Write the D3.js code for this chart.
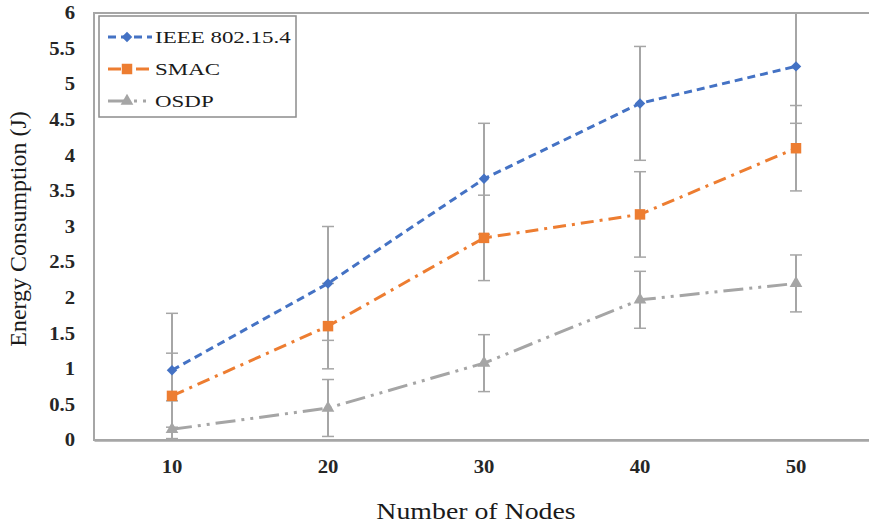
<!doctype html>
<html lang="en">
<head>
  <meta charset="utf-8">
  <title>Energy Consumption</title>
  <script src="https://cdn.jsdelivr.net/npm/d3@7"></script>
  <style>
    body { margin: 0; background: #fff; }
    svg { display: block; font-family: "Liberation Serif", "Times New Roman", serif; }
  </style>
</head>
<body>
<svg id="chart" width="869" height="526"></svg>

<script>
// data
var nodes = ["10", "20", "30", "40", "50"];
var yTicks = [0, 0.5, 1, 1.5, 2, 2.5, 3, 3.5, 4, 4.5, 5, 5.5, 6];

var ieee = [0.98, 2.2, 3.67, 4.73, 5.25];
var ieeeErr = [0.8, 0.8, 0.78, 0.8, 0.8];
var smac = [0.62, 1.6, 2.84, 3.17, 4.1];
var smacErr = [0.6, 0.6, 0.6, 0.6, 0.6];
var osdp = [0.15, 0.45, 1.08, 1.97, 2.2];
var osdpErr = [0.4, 0.4, 0.4, 0.4, 0.4];

var seriesNames = ["IEEE 802.15.4", "SMAC", "OSDP"];

var series = [
  { name: seriesNames[0], values: ieee, err: ieeeErr, color: "#4472c4", dash: "8,5", width: 3, marker: d3.symbolSquare, size: 55, rot: 45 },
  { name: seriesNames[1], values: smac, err: smacErr, color: "#ed7d31", dash: "13,6,3,6", width: 3, marker: d3.symbolSquare, size: 110, rot: 0 },
  { name: seriesNames[2], values: osdp, err: osdpErr, color: "#a5a5a5", dash: "20,6,3,6,3,6", width: 3, marker: d3.symbolTriangle, size: 70, rot: 0 }
];

var svg = d3.select("#chart");
var plotLeft = 94, plotRight = 874, plotTop = 13, plotBottom = 440;

var x = d3.scaleBand().domain(nodes).range([plotLeft, plotRight]);
var y = d3.scaleLinear().domain([0, 6]).range([plotBottom, plotTop]);
var cx = function(d) { return x(d) + x.bandwidth() / 2; };

svg.append("clipPath").attr("id", "plotclip")
  .append("rect").attr("x", plotLeft).attr("y", plotTop)
  .attr("width", plotRight - plotLeft).attr("height", plotBottom - plotTop);

// plot frame
svg.append("rect")
  .attr("x", plotLeft).attr("y", plotTop)
  .attr("width", plotRight - plotLeft).attr("height", plotBottom - plotTop)
  .attr("fill", "none").attr("stroke", "#a6a6a6").attr("stroke-width", 2);

// y axis labels
var yAxis = d3.axisLeft(y).tickValues(yTicks).tickSize(0).tickPadding(0)
  .tickFormat(function(d) { return String(d); });
var gy = svg.append("g").attr("transform", "translate(" + plotLeft + ",0)").call(yAxis);
gy.select(".domain").remove();
gy.selectAll("text")
  .attr("x", 0)
  .attr("transform", "translate(-19,0) scale(1.15,1)")
  .attr("font-family", "Liberation Serif, serif")
  .attr("font-size", 18).attr("font-weight", "bold").attr("fill", "#262626");

// x axis labels
var xAxis = d3.axisBottom(x).tickSize(0).tickPadding(20);
var gx = svg.append("g").attr("transform", "translate(0," + plotBottom + ")").call(xAxis);
gx.select(".domain").attr("stroke", "#a6a6a6").attr("stroke-width", 2.5);
gx.selectAll("text")
  .attr("transform", "scale(1.15,1)")
  .attr("font-family", "Liberation Serif, serif")
  .attr("font-size", 18).attr("font-weight", "bold").attr("fill", "#262626");

var plot = svg.append("g").attr("clip-path", "url(#plotclip)");

// error bars
series.forEach(function(s) {
  var g = plot.append("g");
  nodes.forEach(function(n, i) {
    var hi = s.values[i] + s.err[i], lo = Math.max(0, s.values[i] - s.err[i]);
    g.append("line").attr("x1", cx(n)).attr("x2", cx(n))
      .attr("y1", y(hi)).attr("y2", y(lo))
      .attr("stroke", "#a6a6a6").attr("stroke-width", 2);
    [hi, lo].forEach(function(v) {
      g.append("line").attr("x1", cx(n) - 6).attr("x2", cx(n) + 6)
        .attr("y1", y(v)).attr("y2", y(v))
        .attr("stroke", "#a6a6a6").attr("stroke-width", 1.5);
    });
  });
});

// lines and markers
var line = d3.line()
  .x(function(d, i) { return cx(nodes[i]); })
  .y(function(d) { return y(d); });

series.slice().reverse().forEach(function(s) {
  plot.append("path").datum(s.values)
    .attr("d", line)
    .attr("fill", "none").attr("stroke", s.color)
    .attr("stroke-width", s.width).attr("stroke-dasharray", s.dash);
  plot.selectAll(null).data(s.values).enter().append("path")
    .attr("d", d3.symbol().type(s.marker).size(s.size))
    .attr("transform", function(d, i) {
      return "translate(" + cx(nodes[i]) + "," + y(d) + ") rotate(" + s.rot + ")";
    })
    .attr("fill", s.color);
});

// legend
var lg = svg.append("g");
lg.append("rect").attr("x", 99).attr("y", 16).attr("width", 197).attr("height", 101)
  .attr("fill", "#fff").attr("stroke", "#8c8c8c").attr("stroke-width", 1.5);
series.forEach(function(s, i) {
  var ly = 37 + i * 32;
  lg.append("line").attr("x1", 108).attr("x2", 152).attr("y1", ly).attr("y2", ly)
    .attr("stroke", s.color).attr("stroke-width", s.width).attr("stroke-dasharray", s.dash);
  lg.append("path").attr("d", d3.symbol().type(s.marker).size(s.size))
    .attr("transform", "translate(127," + ly + ") rotate(" + s.rot + ")").attr("fill", s.color);
  lg.append("text").attr("transform", "translate(155," + ly + ") scale(1.35,1)")
    .attr("dy", "0.35em")
    .attr("font-size", 17).attr("fill", "#1a1a1a").text(s.name);
});

// axis titles
svg.append("text")
  .attr("transform", "translate(26,229) rotate(-90)")
  .attr("text-anchor", "middle").attr("font-size", 24).attr("fill", "#1a1a1a")
  .text("Energy Consumption (J)");
svg.append("text")
  .attr("transform", "translate(476,519) scale(1.21,1)")
  .attr("text-anchor", "middle").attr("font-size", 23).attr("fill", "#1a1a1a")
  .text("Number of Nodes");
</script>
</body>
</html>
